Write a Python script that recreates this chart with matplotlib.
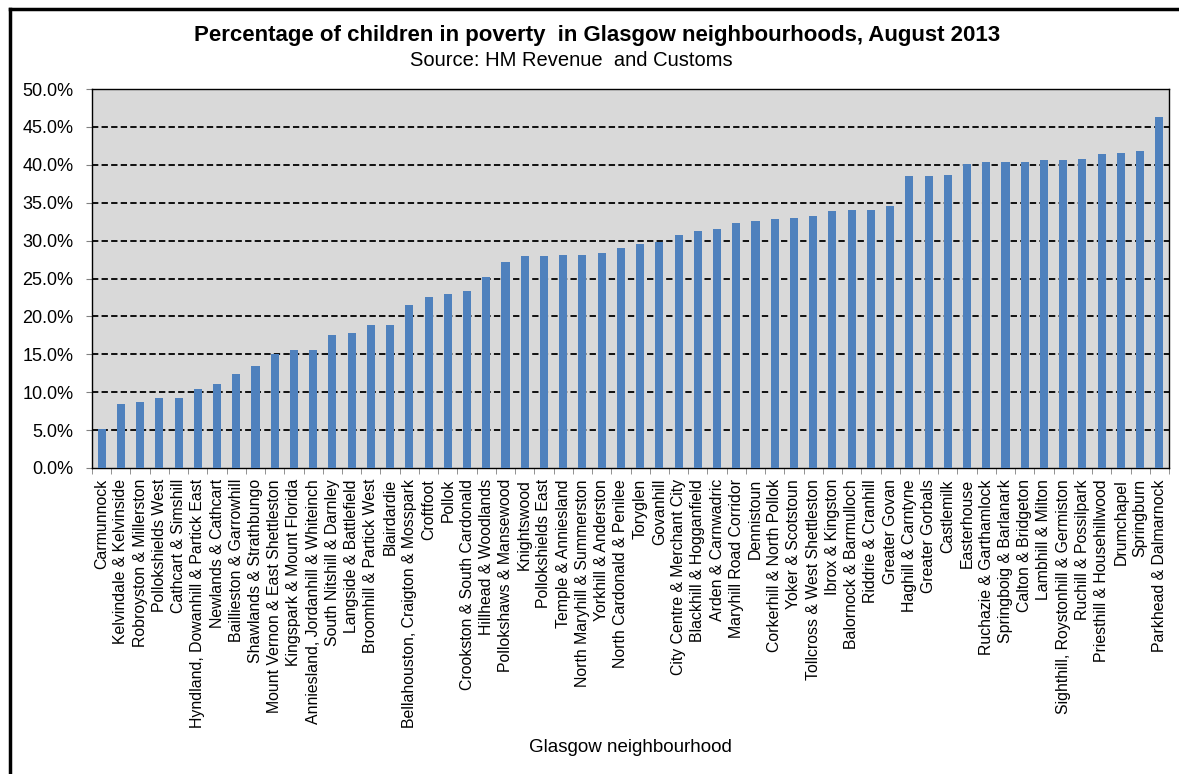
import numpy as np
import matplotlib.pyplot as plt
from matplotlib.lines import Line2D
from matplotlib.ticker import FixedLocator, PercentFormatter

plt.rcParams['font.family'] = ['Liberation Sans', 'DejaVu Sans']

neighbourhoods = [
    "Carmunnock", "Kelvindale & Kelvinside", "Robroyston & Millerston",
    "Pollokshields West", "Cathcart & Simshill",
    "Hyndland, Dowanhill & Partick East", "Newlands & Cathcart",
    "Baillieston & Garrowhill", "Shawlands & Strathbungo",
    "Mount Vernon & East Shettleston", "Kingspark & Mount Florida",
    "Anniesland, Jordanhill & Whiteinch", "South Nitshill & Darnley",
    "Langside & Battlefield", "Broomhill & Partick West", "Blairdardie",
    "Bellahouston, Craigton & Mosspark", "Croftfoot", "Pollok",
    "Crookston & South Cardonald", "Hillhead & Woodlands",
    "Pollokshaws & Mansewood", "Knightswood", "Pollokshields East",
    "Temple & Anniesland", "North Maryhill & Summerston",
    "Yorkhill & Anderston", "North Cardonald & Penilee", "Toryglen",
    "Govanhill", "City Centre & Merchant City", "Blackhill & Hogganfield",
    "Arden & Carnwadric", "Maryhill Road Corridor", "Dennistoun",
    "Corkerhill & North Pollok", "Yoker & Scotstoun",
    "Tollcross & West Shettleston", "Ibrox & Kingston",
    "Balornock & Barmulloch", "Riddrie & Cranhill", "Greater Govan",
    "Haghill & Carntyne", "Greater Gorbals", "Castlemilk", "Easterhouse",
    "Ruchazie & Garthamlock", "Springboig & Barlanark", "Calton & Bridgeton",
    "Lambhill & Milton", "Sighthill, Roystonhill & Germiston",
    "Ruchill & Possilpark", "Priesthill & Househillwood", "Drumchapel",
    "Springburn", "Parkhead & Dalmarnock",
]

pct_poverty = [
    5.1, 8.4, 8.7, 9.2, 9.3, 10.4, 11.1, 12.4, 13.4, 15.1,
    15.6, 15.6, 17.5, 17.8, 18.8, 18.8, 21.5, 22.5, 23.0, 23.4,
    25.2, 27.2, 28.0, 28.0, 28.1, 28.1, 28.4, 29.0, 29.6, 29.8,
    30.7, 31.3, 31.5, 32.3, 32.6, 32.8, 33.0, 33.2, 33.9, 34.1,
    34.1, 34.5, 38.5, 38.5, 38.7, 40.1, 40.4, 40.4, 40.4, 40.6,
    40.6, 40.8, 41.4, 41.5, 41.8, 46.3,
]

W, H = 1179, 774
fig = plt.figure(figsize=(W / 100, H / 100), dpi=100)
ax = fig.add_axes([92 / W, 1 - 468 / H, (1169 - 92) / W, (468 - 89) / H])

x = np.arange(len(neighbourhoods))
ax.set_facecolor("#D9D9D9")
ax.bar(x, pct_poverty, width=0.42, color="#4F81BD", zorder=3)

ax.set_ylim(0, 50)
ax.set_xlim(-0.5, len(neighbourhoods) - 0.5)
ax.set_yticks(np.arange(0, 51, 5))
ax.yaxis.set_major_formatter(PercentFormatter(decimals=1))
for v in range(5, 50, 5):
    ax.axhline(v, color="black", linestyle=(0, (3.5, 1.8)), linewidth=1.3, zorder=2)

ax.set_xticks(x)
ax.set_xticklabels(neighbourhoods, rotation=90, fontsize=11.4)
ax.tick_params(axis="x", which="major", length=0, pad=8)
ax.xaxis.set_minor_locator(FixedLocator(np.arange(-0.5, len(neighbourhoods), 1)))
ax.tick_params(axis="x", which="minor", length=4, color="#808080", direction="out")
ax.tick_params(axis="y", labelsize=13, length=4.3, color="#808080", direction="out", pad=9)

for s in ax.spines.values():
    s.set_color("black")
    s.set_linewidth(1.0)

ax.set_xlabel("Glasgow neighbourhood", fontsize=13.5)
ax.xaxis.set_label_coords(0.5, 1 - 747 / H, transform=fig.transFigure)
ax.xaxis.label.set_x(630.5 / W)
ax.xaxis.label.set_verticalalignment("center")

fig.text(597 / W, 1 - 36 / H, "Percentage of children in poverty  in Glasgow neighbourhoods, August 2013",
         ha="center", va="center", fontsize=16, fontweight="bold")
fig.text(571 / W, 1 - 60 / H, "Source: HM Revenue  and Customs",
         ha="center", va="center", fontsize=14.5)

# frame along the top and left edges of the picture
fig.add_artist(Line2D([10 / W, 10 / W], [0, 1 - 9 / H], color="black", linewidth=2.5,
                      transform=fig.transFigure))
fig.add_artist(Line2D([10 / W, 1], [1 - 9 / H, 1 - 9 / H], color="black", linewidth=2.5,
                      transform=fig.transFigure))

fig.savefig("out.png", dpi=100)
